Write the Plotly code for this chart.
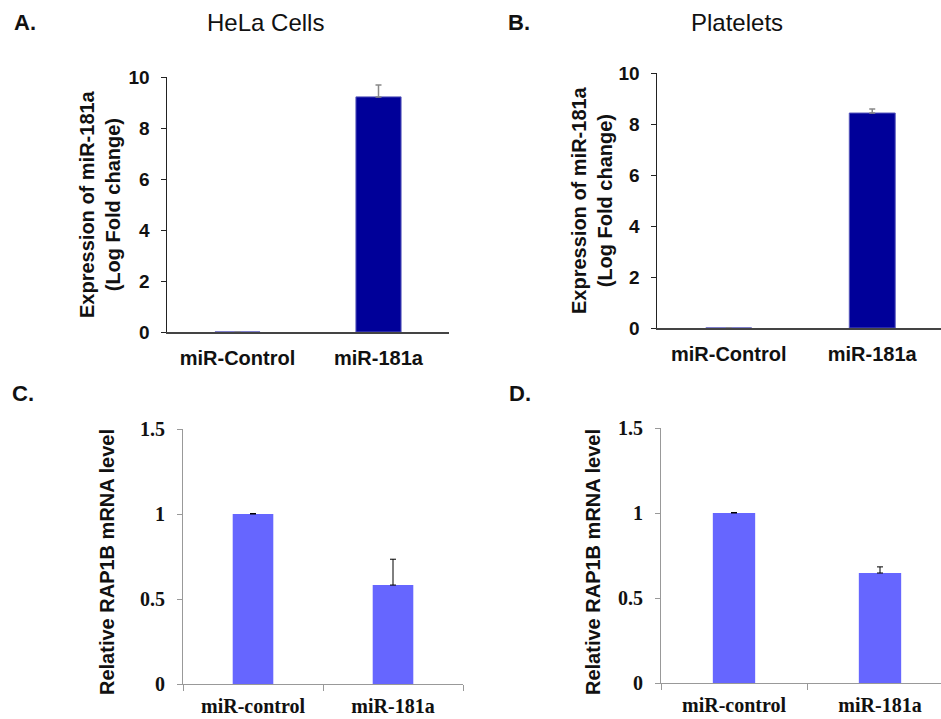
import plotly.graph_objects as go

W, H = 941, 719

# ---- data ----
cats_top = ["miR-Control", "miR-181a"]
hela_vals = [0.0, 9.22]
hela_err = [0.0, 0.47]
plt_vals = [0.0, 8.43]
plt_err = [0.0, 0.16]

cats_bot = ["miR-control", "miR-181a"]
hela_rap = [1.0, 0.582]
hela_rap_err = [0.003, 0.152]
plt_rap = [1.0, 0.647]
plt_rap_err = [0.003, 0.036]

top_ticks = [0, 2, 4, 6, 8, 10]
bot_ticks = [0, 0.5, 1, 1.5]
bot_ticktext = ["0", "0.5", "1", "1.5"]

SANS = "Arial, Liberation Sans, sans-serif"
SERIF = "Times New Roman, Liberation Serif, serif"

def px(x):
    return x / W

def py(y):
    return 1 - y / H

fig = go.Figure()

fig.add_trace(go.Bar(x=cats_top, y=hela_vals, width=0.32,
                     marker=dict(color="#000099", line=dict(color="#5555bb", width=1)),
                     error_y=dict(type="data", array=hela_err, arrayminus=[0, 0], symmetric=False,
                                  color="#888888", thickness=1.5, width=3),
                     xaxis="x", yaxis="y", showlegend=False, hoverinfo="skip"))
fig.add_trace(go.Bar(x=cats_top, y=plt_vals, width=0.32,
                     marker=dict(color="#000099", line=dict(color="#5555bb", width=1)),
                     error_y=dict(type="data", array=plt_err, arrayminus=[0, 0], symmetric=False,
                                  color="#888888", thickness=1.5, width=3),
                     xaxis="x2", yaxis="y2", showlegend=False, hoverinfo="skip"))
fig.add_trace(go.Bar(x=cats_bot, y=hela_rap, width=0.29,
                     marker=dict(color="#6666ff", line=dict(width=0)),
                     error_y=dict(type="data", array=hela_rap_err, arrayminus=[0, 0], symmetric=False,
                                  color="#000000", thickness=1, width=3),
                     xaxis="x3", yaxis="y3", showlegend=False, hoverinfo="skip"))
fig.add_trace(go.Bar(x=cats_bot, y=plt_rap, width=0.29,
                     marker=dict(color="#6666ff", line=dict(width=0)),
                     error_y=dict(type="data", array=plt_rap_err, arrayminus=[0, 0], symmetric=False,
                                  color="#000000", thickness=1, width=3),
                     xaxis="x4", yaxis="y4", showlegend=False, hoverinfo="skip"))

top_x = dict(showline=True, linecolor="#444444", linewidth=1.5, ticks="", showgrid=False,
             zeroline=False, ticklabelstandoff=7, automargin=False,
             tickfont=dict(family=SANS, size=20, color="#111111", weight="bold"))
top_y = dict(showline=True, linecolor="#222222", linewidth=1.5, ticks="outside", ticklen=5,
             tickcolor="#222222", showgrid=False, zeroline=False, range=[0, 10],
             tickvals=top_ticks, ticklabelstandoff=7, automargin=False,
             tickfont=dict(family=SANS, size=19, color="#111111", weight="bold"))
bot_x = dict(showline=True, linecolor="#999999", linewidth=1, ticks="outside", ticklen=6,
             tickcolor="#999999", tickson="boundaries", showgrid=False, zeroline=False,
             ticklabelstandoff=4, automargin=False,
             tickfont=dict(family=SERIF, size=20, color="#111111", weight="bold"))
bot_y = dict(showline=True, linecolor="#999999", linewidth=1, ticks="outside", ticklen=5,
             tickcolor="#999999", showgrid=False, zeroline=False, range=[0, 1.5],
             tickvals=bot_ticks, ticktext=bot_ticktext, ticklabelstandoff=8, automargin=False,
             tickfont=dict(family=SERIF, size=20, color="#111111", weight="bold"))

fig.update_layout(
    width=W, height=H, margin=dict(l=0, r=0, t=0, b=0, pad=0, autoexpand=False), autosize=False,
    paper_bgcolor="white", plot_bgcolor="white", hovermode=False,
    xaxis=dict(top_x, domain=[px(167), px(449)], range=[-0.5, 1.5], anchor="y"),
    yaxis=dict(top_y, domain=[py(332), py(77)], anchor="x"),
    xaxis2=dict(top_x, domain=[px(657), 1.0], range=[-0.5, -0.5 + 284 / 143.5], anchor="y2"),
    yaxis2=dict(top_y, domain=[py(328), py(73)], anchor="x2"),
    xaxis3=dict(bot_x, domain=[px(183), px(463)], range=[-0.5, 1.5], anchor="y3"),
    yaxis3=dict(bot_y, domain=[py(684), py(429)], anchor="x3"),
    xaxis4=dict(bot_x, domain=[px(661), 1.0], range=[-0.5, -0.5 + 280 / 146], anchor="y4"),
    yaxis4=dict(bot_y, domain=[py(683), py(428)], anchor="x4"),
)

ann = []
def label(text, x, y, size, bold=False, angle=0, family=SANS):
    ann.append(dict(text=f"<b>{text}</b>" if bold else text, x=px(x), y=py(y),
                    xref="paper", yref="paper", showarrow=False, textangle=angle,
                    xanchor="center", yanchor="middle",
                    font=dict(family=family, size=size, color="#111111")))

label("A.", 25, 22, 22, bold=True)
label("B.", 519, 22, 22, bold=True)
label("C.", 23, 393, 22, bold=True)
label("D.", 520, 393, 22, bold=True)
label("HeLa Cells", 265, 22, 24)
label("Platelets", 737, 22, 24)
label("Expression of miR-181a<br>(Log Fold change)", 100, 204, 20, bold=True, angle=-90)
label("Expression of miR-181a<br>(Log Fold change)", 592, 200, 20, bold=True, angle=-90)
label("Relative RAP1B mRNA level", 107, 562, 20, bold=True, angle=-90)
label("Relative RAP1B mRNA level", 593, 562, 20, bold=True, angle=-90)
fig.update_layout(annotations=ann)

post = (
    "document.documentElement.style.margin='0';"
    "document.documentElement.style.overflow='hidden';"
    "document.body.style.margin='0';"
    "document.body.style.overflow='hidden';"
    "var d=document.getElementById('{plot_id}');"
    "d.style.position='fixed';d.style.left='0px';d.style.top='0px';"
)
fig.write_html("out.html", post_script=post,
               config={"displayModeBar": False, "staticPlot": True, "responsive": False})
